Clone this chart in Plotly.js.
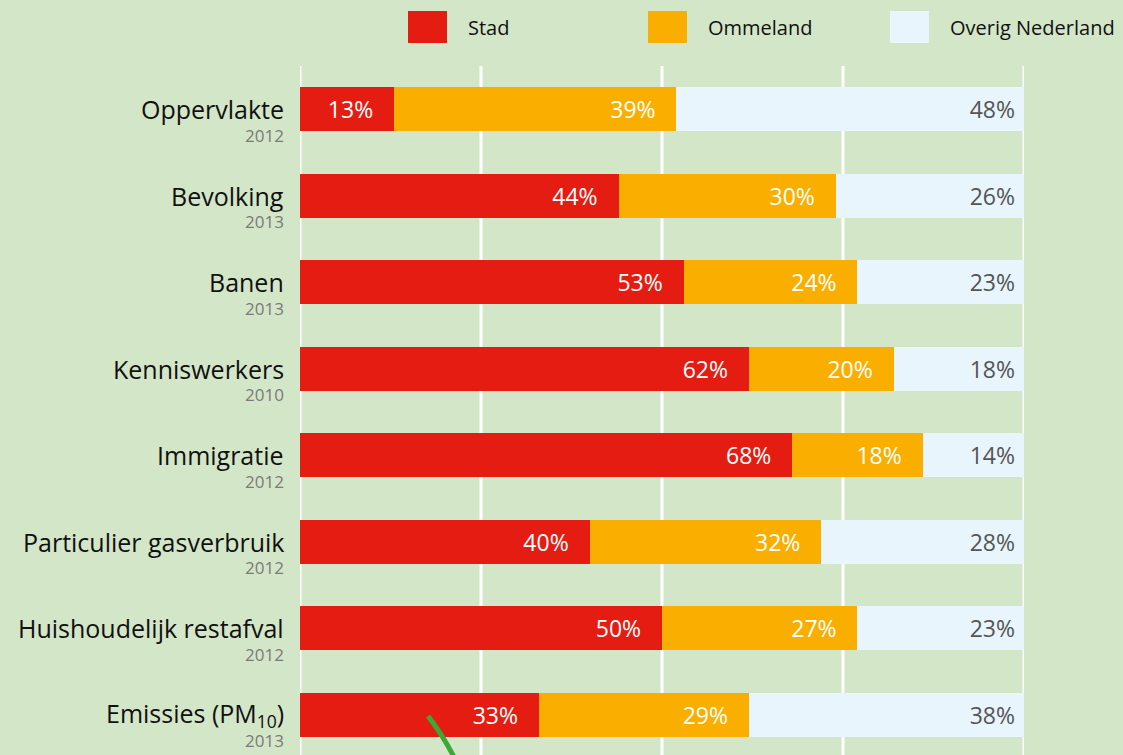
<!DOCTYPE html>
<html><head><meta charset="utf-8">
<script src="https://cdn.plot.ly/plotly-3.0.1.min.js"></script>
<style>html,body{margin:0;padding:0;background:#d3e6c7;}</style>
</head><body>
<div id="chart" style="width:1123px;height:755px;"></div>
<script>
const categories = ["Oppervlakte","Bevolking","Banen","Kenniswerkers","Immigratie","Particulier gasverbruik","Huishoudelijk restafval","Emissies (PM<sub>10</sub>)"];
const years = ["2012","2013","2013","2010","2012","2012","2012","2013"];
const stad = [13,44,53,62,68,40,50,33];
const ommeland = [39,30,24,20,18,32,27,29];
const overig = [48,26,23,18,14,28,23,38];
const seriesNames = ["Stad","Ommeland","Overig Nederland"];
const gridVals = [0,25,50,75,100];
const colors = ["#e41c11","#f9ae00","#e8f5fc"];

const FONT = "Open Sans, sans-serif";
const pad = "\u00a0\u00a0\u00a0";
function mk(vals, i, txtColor, p){
  return {
    type:"bar", orientation:"h", name:seriesNames[i],
    y: categories.map((c,k)=>k), x: vals,
    marker:{color:colors[i], line:{width:0}},
    text: vals.map(v=>v+"%"+p),
    textposition:"inside", insidetextanchor:"end", textangle:0,
    textfont:{family:FONT, size:23, color:txtColor},
    hoverinfo:"none", showlegend:false, width:0.51
  };
}
const data = [mk(stad,0,"#ffffff",pad), mk(ommeland,1,"#ffffff",pad), mk(overig,2,"#555555","\u00a0")];

const annotations = [];
const shapes = [];
gridVals.forEach(g=>{
  shapes.push({type:"line", xref:"x", yref:"paper", x0:g, x1:g, y0:0, y1:1,
    line:{color:"#ffffff", width:3}, layer:"below"});
});
categories.forEach((c,k)=>{
  annotations.push({xref:"paper", yref:"y", x:-14/724, y:k, xanchor:"right", yanchor:"middle",
    text:c, showarrow:false, yshift:0, font:{family:FONT, size:25, color:"#111111"}});
  annotations.push({xref:"paper", yref:"y", x:-14/724, y:k, xanchor:"right", yanchor:"middle",
    text:years[k], showarrow:false, yshift:-26, font:{family:FONT, size:17, color:"#7a7a7a"}});
});
// legend (manual)
const legX = [408,648,890];
seriesNames.forEach((n,i)=>{
  shapes.push({type:"rect", xref:"paper", yref:"paper",
    x0:(legX[i]-300)/724, x1:(legX[i]+39-300)/724,
    y0:(755-43)/689, y1:(755-11)/689, fillcolor:colors[i], line:{width:0}, layer:"above"});
  annotations.push({xref:"paper", yref:"paper", x:(legX[i]+58-300)/724, y:(755-27)/689,
    xanchor:"left", yanchor:"middle", text:n, showarrow:false, font:{family:FONT, size:20, color:"#111111"}});
});
// decorative green curve at bottom
shapes.push({type:"path", xref:"paper", yref:"paper",
  path:`M ${(428-300)/724} ${(755-716)/689} Q ${(442-300)/724} ${(755-734)/689} ${(454-300)/724} ${(755-757)/689}`,
  line:{color:"#3aaa35", width:5}, layer:"above"});

const layout = {
  width:1123, height:755,
  paper_bgcolor:"#d3e6c7", plot_bgcolor:"#d3e6c7",
  margin:{l:300, r:99, t:66, b:0, pad:0},
  barmode:"stack", bargap:0.49,
  xaxis:{range:[0,100], showticklabels:false, showgrid:false, zeroline:false, showline:false},
  yaxis:{range:[7.465,-0.5], showticklabels:false, showgrid:false, zeroline:false, showline:false},
  annotations:annotations, shapes:shapes, showlegend:false,
  font:{family:FONT}
};
Plotly.newPlot("chart", data, layout, {displayModeBar:false, staticPlot:true});
</script>
</body></html>
